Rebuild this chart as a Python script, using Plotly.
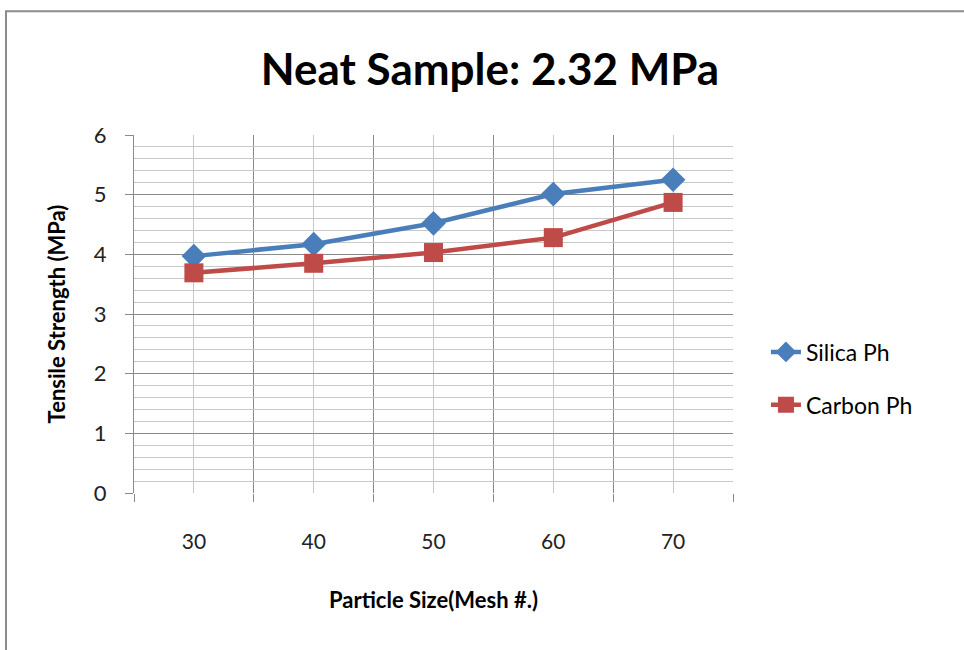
import plotly.graph_objects as go

mesh = [30, 40, 50, 60, 70]
silica = [3.97, 4.17, 4.52, 5.01, 5.25]
carbon = [3.69, 3.85, 4.03, 4.28, 4.87]
y_ticks = [0, 1, 2, 3, 4, 5, 6]

FONT = "Lato"

fig = go.Figure()
fig.add_trace(go.Scatter(x=mesh, y=silica, name="Silica Ph", mode="lines+markers",
                         legendgroup="a",
                         line=dict(color="#4A7EBB", width=4.5),
                         marker=dict(symbol="diamond", size=19, color="#4A7EBB")))
fig.add_trace(go.Scatter(x=mesh, y=carbon, name="Carbon Ph", mode="lines+markers",
                         legendgroup="b",
                         line=dict(color="#BE4B48", width=4.5),
                         marker=dict(symbol="square", size=19, color="#BE4B48")))

fig.update_layout(
    width=964, height=650,
    margin=dict(l=134, r=231, t=135, b=157),
    paper_bgcolor="white", plot_bgcolor="white",
    title=dict(text="<b>Neat Sample: 2.32 MPa</b>", x=490 / 964, xanchor="center",
               y=1 - 70 / 650, yanchor="middle",
               font=dict(family=FONT, size=44, color="black")),
    legend=dict(x=1.055, xanchor="left", y=0.32, yanchor="middle",
                font=dict(family=FONT, size=23, color="black"),
                tracegroupgap=20, itemsizing="trace", bgcolor="rgba(0,0,0,0)"),
    font=dict(family=FONT, color="black"),
    shapes=[dict(type="rect", xref="paper", yref="paper",
                 x0=-0.2137, x1=1.6, y0=-1.0, y1=1.346,
                 line=dict(color="#8c8c8c", width=2), layer="below")],
)

fig.update_xaxes(
    range=[25, 75], tickvals=mesh, ticktext=[str(m) for m in mesh],
    showgrid=True, gridcolor="#c8c8c8", gridwidth=1,
    ticks="", showline=False, zeroline=False,
    ticklabelstandoff=34,
    tickfont=dict(family=FONT, size=21, color="#222"),
    minor=dict(tickvals=[25, 35, 45, 55, 65, 75], showgrid=True, gridcolor="#8a8a8a",
               gridwidth=1, ticks="outside", ticklen=8, tickcolor="#8a8a8a"),
    title=dict(text="<b>Particle Size(Mesh #.)</b>", standoff=40,
               font=dict(family=FONT, size=22, color="black")),
)

fig.update_yaxes(
    range=[0, 6], tickvals=y_ticks,
    showgrid=True, gridcolor="#8a8a8a", gridwidth=1,
    ticks="outside", ticklen=8, tickcolor="#8a8a8a",
    showline=True, linecolor="#8a8a8a", linewidth=1, zeroline=False,
    ticklabelstandoff=14,
    tickfont=dict(family=FONT, size=22, color="#222"),
    minor=dict(dtick=0.2, showgrid=True, gridcolor="#c8c8c8", gridwidth=1),
    title=dict(text="<b>Tensile Strength (MPa)</b>", standoff=22,
               font=dict(family=FONT, size=22, color="black")),
)

fig.write_html("out.html")
